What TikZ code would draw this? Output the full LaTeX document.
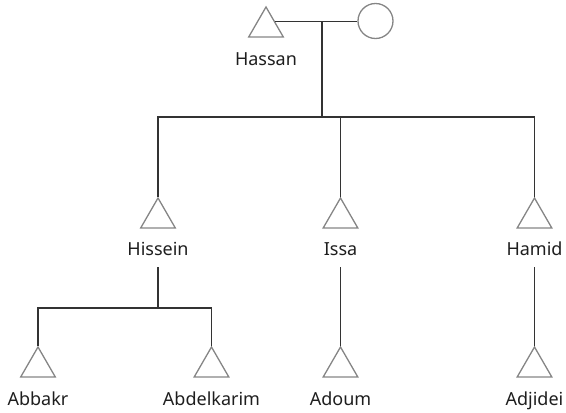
\documentclass[tikz,border=0pt]{standalone}
\usepackage{fontspec}
\setmainfont{Noto Sans}
\usetikzlibrary{shapes.geometric}
\definecolor{txt}{HTML}{1E1E1E}
\definecolor{conn}{HTML}{333333}
\definecolor{sym}{HTML}{858585}
\begin{document}
\begin{tikzpicture}[x=1pt,y=-1pt,
  male/.style={regular polygon, regular polygon sides=3, minimum size=40pt, inner sep=0pt, draw=sym, line width=1.3pt},
  female/.style={circle, minimum size=35pt, inner sep=0pt, draw=sym, line width=1.3pt},
  lbl/.style={anchor=base, text=txt, font=\fontsize{18}{20}\selectfont, inner xsep=0pt, inner ysep=12pt, text depth=0pt},
  link/.style={draw=conn, line width=1.2pt}]
\useasboundingbox (0,0) rectangle (566,413);
% generation 1
\node[male] (hassan) at (266,27) {};
\node[female] (wife) at (375.5,21) {};
\node[lbl] (hassanL) at (266,65) {Hassan};
\coordinate (marr) at (322,22);
\coordinate (bar) at (322,117);
\draw[link] (hassan.side 3) -- (hassan.side 3 -| wife.west);
\draw[link] (marr) -- (bar);
% generation 2
\node[male] (hissein) at (158,218) {};
\node[male] (issa) at (340.5,218) {};
\node[male] (hamid) at (534.5,218) {};
\node[lbl] (hisseinL) at (158,255) {Hissein};
\node[lbl] (issaL) at (340.5,255) {Issa};
\node[lbl] (hamidL) at (534.5,255) {Hamid};
\draw[link] (hissein.corner 1) |- (bar) -| (hamid.corner 1);
\draw[link] (issa.corner 1) -- (issa.corner 1 |- bar);
% generation 3
\node[male] (abbakr) at (38,367) {};
\node[male] (abdel) at (211.5,367) {};
\node[male] (adoum) at (340.5,367) {};
\node[male] (adjidei) at (534.5,367) {};
\node[lbl] (abbakrL) at (38,405) {Abbakr};
\node[lbl] (abdelL) at (211.5,405) {Abdelkarim};
\node[lbl] (adoumL) at (340.5,405) {Adoum};
\node[lbl] (adjideiL) at (534.5,405) {Adjidei};
\coordinate (hj) at (158,308);
\draw[link] (hisseinL.south) -- (hj);
\draw[link] (abbakr.corner 1) |- (hj) -| (abdel.corner 1);
\draw[link] (issaL.south) -- (adoum.corner 1);
\draw[link] (hamidL.south) -- (adjidei.corner 1);
\end{tikzpicture}
\end{document}
